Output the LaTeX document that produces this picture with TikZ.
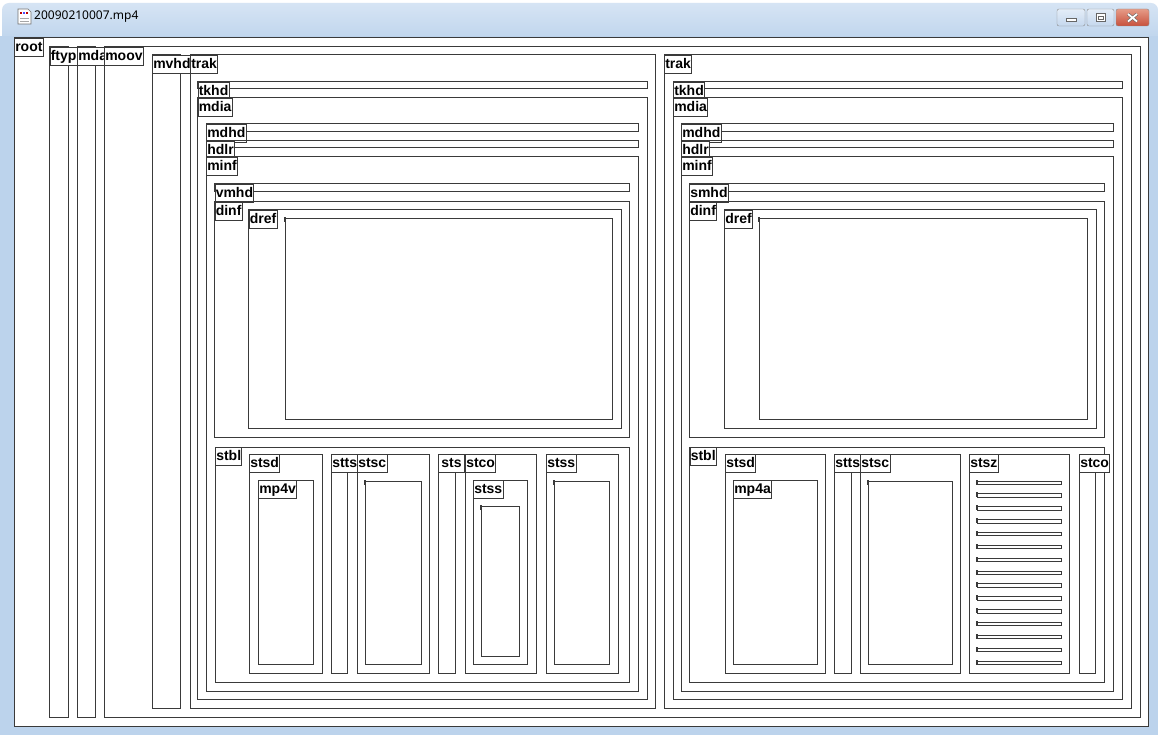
\documentclass[tikz,border=0pt]{standalone}
\usepackage{fontspec}
\setmainfont{Liberation Sans}
\newfontfamily\titlefont{Noto Sans}
\definecolor{frameblue}{RGB}{188,211,236}
\definecolor{titletop}{RGB}{214,228,244}
\definecolor{boxgray}{RGB}{58,58,58}
\definecolor{closered}{RGB}{199,80,60}
\definecolor{closetop}{RGB}{230,155,135}
\definecolor{btnblue}{RGB}{196,215,237}
\definecolor{btntop}{RGB}{228,237,248}
\newcommand\atombox[6]{\draw[boxline] (#2,#3) rectangle (#4,#5);\node[lbl] (#1) at (#2,#3) {#6};}
\newcommand\entrybox[5]{\draw[boxline] (#2,#3) rectangle (#4,#5);\node[tickmark] (#1) at (#2-1,#3-1.5) {};}
\begin{document}
\begin{tikzpicture}[x=1pt,y=-1pt,
  boxline/.style={draw=boxgray,line width=1pt},
  lbl/.style={draw=boxgray,line width=0.9pt,fill=white,anchor=north west,inner xsep=0.8pt,inner ysep=0pt,minimum height=18pt,text height=10.5pt,text depth=3pt,font=\fontsize{14}{14}\selectfont\bfseries},
  tickmark/.style={draw=boxgray,fill=boxgray,line width=0.5pt,anchor=north west,inner sep=0pt,minimum width=1pt,minimum height=4pt}
]
\useasboundingbox (0,0) rectangle (1158,735);
\fill[white] (0,0) rectangle (1158,735);
% window frame
\shade[top color=titletop,bottom color=frameblue,rounded corners=7pt] (2,3) rectangle (1158,44);
\fill[frameblue] (0,36) rectangle (1158,735);
\fill[white] (14,38) rectangle (1148,726);
% icon
\draw[black!55,fill=white,line width=0.6pt] (18,9) -- (28,9) -- (31,12) -- (31,24) -- (18,24) -- cycle;
\fill[red!75!black] (20,12) rectangle (22,14);
\fill[blue!70] (23,12) rectangle (25,14);
\fill[red!75!black] (26,12) rectangle (28,14);
\draw[black!35,line width=0.5pt] (20,18) -- (29,18) (20,21) -- (29,21);
\node[font=\titlefont\fontsize{12}{12}\selectfont,anchor=west,inner sep=0pt] (title) at (34,17) {20090210007.mp4};
% buttons
\shade[top color=btntop,bottom color=btnblue,draw=black!45,rounded corners=2pt] (1057,9) rectangle (1085,26);
\draw[black!60,fill=white,line width=0.6pt] (1066,18) rectangle (1076,21);
\shade[top color=btntop,bottom color=btnblue,draw=black!45,rounded corners=2pt] (1087,9) rectangle (1114,26);
\draw[black!60,fill=white,line width=0.6pt] (1096,13.5) rectangle (1105,21.5);
\draw[black!60,line width=0.6pt] (1098,16) rectangle (1103,19.5);
\shade[top color=closetop,bottom color=closered,draw=black!45,rounded corners=2pt] (1116,9) rectangle (1149,26);
\draw[black!60,line width=3pt] (1128,14) -- (1137,21.5) (1137,14) -- (1128,21.5);
\draw[white,line width=1.8pt] (1128,14) -- (1137,21.5) (1137,14) -- (1128,21.5);
% atoms
\atombox{root}{14}{38}{1148}{726}{root}
\atombox{ftyp}{49.5}{47}{68}{717}{ftyp}
\draw[boxline] (77,47) rectangle (95,717);
\node[lbl,minimum width=27pt] (mdat) at (77,47) {mda};
\atombox{moov}{104}{47}{1140}{717}{moov}
\atombox{mvhd}{152}{55}{180}{708}{mvhd}
% track 1
\atombox{trakA}{190}{55}{655}{708}{trak}
\atombox{tkhdA}{197.5}{82}{647}{89}{tkhd}
\atombox{mdiaA}{197.5}{98}{647}{699}{mdia}
\atombox{mdhdA}{206}{124}{638}{132}{mdhd}
\atombox{hdlrA}{206}{141}{638}{148}{hdlr}
\atombox{minfA}{206}{157}{638}{691}{minf}
\atombox{vmhd}{214.5}{184}{629}{192}{vmhd}
\atombox{dinfA}{214.5}{202}{629}{437}{dinf}
\atombox{drefA}{248.5}{210}{621}{428}{dref}
\entrybox{urlA}{285}{219}{612}{419}
\atombox{stblA}{215}{447}{629}{682}{stbl}
\atombox{stsdA}{249}{454}{322}{673}{stsd}
\atombox{mpfv}{258}{480}{313}{664}{mp4v}
\atombox{sttsA}{331}{454}{347}{673}{stts}
\atombox{stscA}{357}{454}{429}{673}{stsc}
\entrybox{stscAe}{365}{481}{421}{664}
\draw[boxline] (438,454) rectangle (455,673);
\node[lbl,minimum width=26pt] (stszA) at (438,454) {sts};
\atombox{stcoA}{465}{454}{536}{673}{stco}
\atombox{stssB}{473}{480}{527}{664}{stss}
\entrybox{stssBe}{481}{506}{519}{656}
\atombox{stssA}{546}{454}{618}{673}{stss}
\entrybox{stssAe}{554}{481}{609}{664}
% track 2
\atombox{trakB}{664}{55}{1131}{708}{trak}
\atombox{tkhdB}{673}{82}{1122}{89}{tkhd}
\atombox{mdiaB}{673}{98}{1122}{699}{mdia}
\atombox{mdhdB}{681}{124}{1113}{132}{mdhd}
\atombox{hdlrB}{681}{141}{1113}{148}{hdlr}
\atombox{minfB}{681}{157}{1113}{691}{minf}
\atombox{smhd}{689}{184}{1104}{192}{smhd}
\atombox{dinfB}{689}{202}{1104}{437}{dinf}
\atombox{drefB}{724}{210}{1096}{428}{dref}
\entrybox{urlB}{759}{219}{1087}{419}
\atombox{stblB}{689.5}{447}{1104}{682}{stbl}
\atombox{stsdB}{725}{454}{825}{673}{stsd}
\atombox{mpfa}{733}{480}{817}{664}{mp4a}
\atombox{sttsB}{834}{454}{851}{673}{stts}
\atombox{stscB}{860}{454}{960}{673}{stsc}
\entrybox{stscBe}{868}{481}{952}{664}
\atombox{stszB}{969}{454}{1069}{673}{stsz}
\foreach \k in {0,...,14}{
  \pgfmathsetmacro\ya{481+12.86*\k}
  \pgfmathsetmacro\yb{\ya+3.5}
  \entrybox{bar\k}{977}{\ya}{1061}{\yb}
}
\atombox{stcoB}{1079}{454}{1095}{673}{stco}
\end{tikzpicture}
\end{document}
